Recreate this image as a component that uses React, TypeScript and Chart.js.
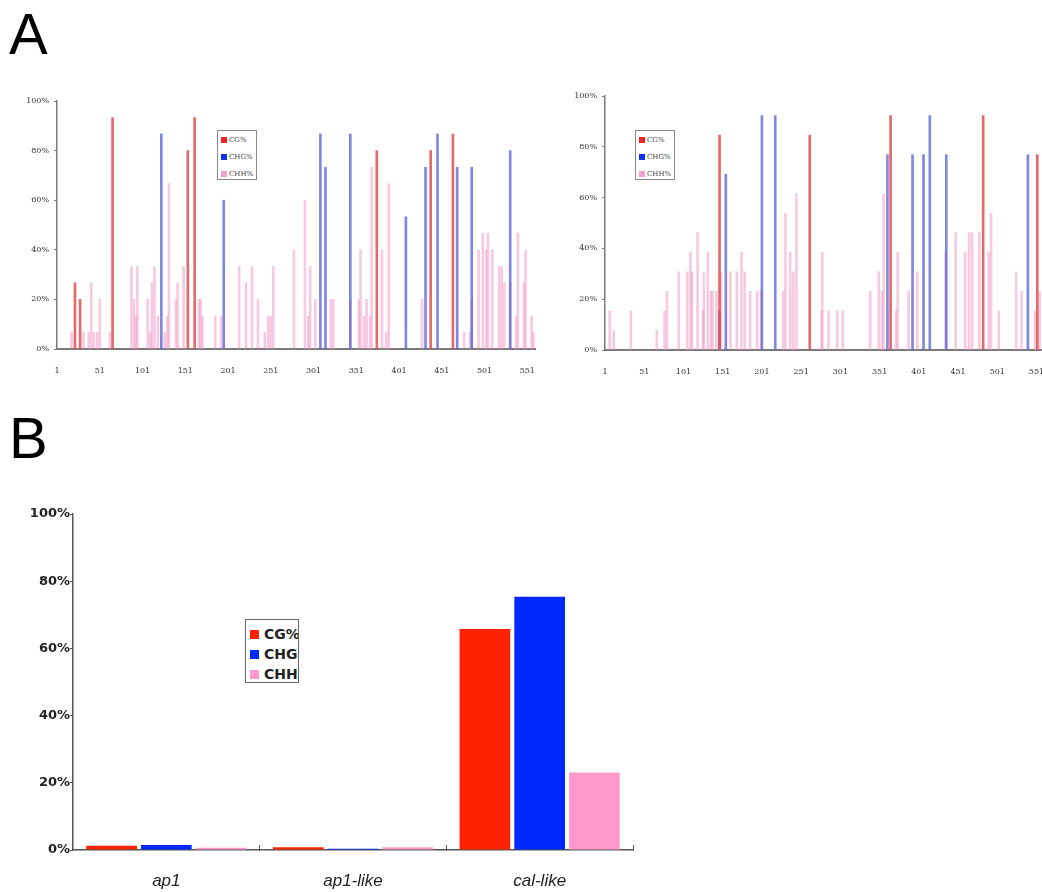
import React, { useEffect, useRef } from 'react';
import { Chart, registerables } from 'chart.js';

Chart.register(...registerables);

// ---------- shared labels ----------
const topSeriesLabels = ['CG%', 'CHG%', 'CHH%'];
const bottomSeriesLabels = ['CG%', 'CHG', 'CHH'];
const topXTicks = [1, 51, 101, 151, 201, 251, 301, 351, 401, 451, 501, 551];
const pctTicks = [0, 20, 40, 60, 80, 100];

// ---------- panel A, left ----------
const leftCgPos = [22, 28, 66, 154, 162, 375, 438, 464];
const leftCgVal = [26.7, 20, 93.3, 80, 93.3, 80, 80, 86.7];
const leftChgPos = [123, 196, 309, 315, 344, 409, 432, 446, 469, 486, 531];
const leftChgVal = [86.7, 60, 86.7, 73.3, 86.7, 53.3, 73.3, 86.7, 73.3, 73.3, 80];
const leftChhPos = [18, 32, 38, 41, 44, 48, 51, 63, 88, 91, 93, 95, 107, 110, 112, 115, 119, 127, 130, 132, 140, 142, 149, 167, 169, 171, 186, 193, 214, 222, 229, 236, 244, 248, 251, 254, 278, 291, 295, 297, 303, 321, 324, 344, 354, 356, 360, 363, 367, 369, 381, 386, 389, 428, 477, 484, 486, 494, 499, 503, 505, 510, 518, 521, 524, 531, 538, 540, 547, 549, 556, 558];
const leftChhVal = [6.7, 6.7, 6.7, 26.7, 6.7, 6.7, 20, 6.7, 33.3, 20, 13.3, 33.3, 20, 6.7, 26.7, 33.3, 13.3, 6.7, 13.3, 66.7, 20, 26.7, 33.3, 20, 20, 13.3, 13.3, 13.3, 33.3, 26.7, 33.3, 20, 6.7, 13.3, 13.3, 33.3, 40, 60, 13.3, 33.3, 20, 20, 20, 20, 20, 40, 13.3, 20, 13.3, 73.3, 40, 6.7, 66.7, 20, 6.7, 6.7, 20, 40, 46.7, 40, 46.7, 40, 33.3, 33.3, 26.7, 26.7, 13.3, 46.7, 26.7, 40, 13.3, 6.7];

// ---------- panel A, right ----------
const rightCgPos = [147, 262, 365, 483, 552];
const rightCgVal = [84.6, 84.6, 92.3, 92.3, 76.9];
const rightChgPos = [147, 155, 201, 218, 361, 393, 407, 415, 436, 540];
const rightChgVal = [15.4, 69.2, 92.3, 92.3, 76.9, 76.9, 76.9, 92.3, 76.9, 76.9];
const rightChhPos = [7, 12, 34, 67, 77, 80, 95, 106, 110, 112, 119, 126, 127, 132, 136, 138, 143, 149, 161, 169, 175, 179, 186, 195, 200, 228, 231, 237, 241, 245, 277, 278, 286, 297, 304, 339, 350, 354, 356, 372, 374, 388, 399, 435, 448, 460, 465, 469, 478, 490, 493, 503, 525, 532, 549, 555];
const rightChhVal = [15.4, 7.7, 15.4, 7.7, 15.4, 23.1, 30.8, 30.8, 38.5, 30.8, 46.2, 15.4, 30.8, 38.5, 23.1, 23.1, 23.1, 30.8, 30.8, 30.8, 38.5, 30.8, 23.1, 23.1, 23.1, 23.1, 53.8, 38.5, 30.8, 61.5, 15.4, 38.5, 15.4, 15.4, 15.4, 23.1, 30.8, 23.1, 61.5, 15.4, 38.5, 23.1, 30.8, 38.5, 46.2, 38.5, 46.2, 46.2, 46.2, 38.5, 53.8, 15.4, 30.8, 23.1, 15.4, 23.1];

// ---------- panel B ----------
const categories = ['ap1', 'ap1-like', 'cal-like'];
const cgValues = [1.3, 0.8, 65.8];
const chgValues = [1.5, 0.4, 75.4];
const chhValues = [0.7, 0.8, 23.1];

const topBarColors = ['rgba(222,80,80,0.85)', 'rgba(85,95,215,0.75)', 'rgba(240,150,195,0.5)'];
const topLegendColors = ['#ee2222', '#1133ee', '#f4a0cc'];
const bottomColors = ['#ff2200', '#0028ff', '#ff99cc'];

const pts = (pos: number[], val: number[]) => pos.map((x, i) => ({ x, y: val[i] }));

type TopProps = {
  left: number; top: number; width: number; height: number;
  yAxisWidth: number; xAxisHeight: number; padTop: number; padRight: number;
  xMax: number;
  cg: [number[], number[]]; chg: [number[], number[]]; chh: [number[], number[]];
};

function TopChart(p: TopProps) {
  const ref = useRef<HTMLCanvasElement>(null);
  useEffect(() => {
    if (!ref.current) return;
    const series = [p.cg, p.chg, p.chh];
    const tickFont = { family: '"DejaVu Serif", serif', size: 8 };
    const chart = new Chart(ref.current, {
      type: 'bar',
      data: {
        datasets: series.map((s, i) => ({
          label: topSeriesLabels[i],
          data: pts(s[0], s[1]),
          backgroundColor: topBarColors[i],
          borderWidth: 0,
          barThickness: 2,
          grouped: false,
        })),
      },
      options: {
        animation: false,
        responsive: false,
        maintainAspectRatio: false,
        layout: { padding: { top: p.padTop, right: p.padRight, left: 0, bottom: 0 } },
        plugins: { legend: { display: false }, tooltip: { enabled: false } },
        scales: {
          x: {
            type: 'linear',
            offset: false,
            min: 1,
            max: p.xMax,
            grid: { display: false },
            border: { display: true, color: '#7a7a7a', width: 2 },
            ticks: { font: tickFont, color: '#333', padding: 9, maxRotation: 0, autoSkip: false },
            afterBuildTicks: (s: any) => { s.ticks = topXTicks.map((v) => ({ value: v })); },
            afterFit: (s: any) => { s.height = p.xAxisHeight; s.paddingLeft = 0; s.paddingRight = 0; },
          },
          y: {
            min: 0,
            max: 100,
            grid: { drawOnChartArea: false, tickLength: 3, color: '#7a7a7a' },
            border: { display: true, color: '#7a7a7a', width: 1.5 },
            ticks: { font: tickFont, color: '#333', padding: 5, callback: (v: any) => v + '%' },
            afterBuildTicks: (s: any) => { s.ticks = pctTicks.map((v) => ({ value: v })); },
            afterFit: (s: any) => { s.width = p.yAxisWidth; s.paddingTop = 0; s.paddingBottom = 0; },
          },
        },
      },
    });
    return () => chart.destroy();
  }, []);
  return (
    <canvas
      ref={ref}
      width={p.width}
      height={p.height}
      style={{ position: 'absolute', left: p.left, top: p.top, width: p.width, height: p.height }}
    />
  );
}

function TopLegend({ left, top }: { left: number; top: number }) {
  return (
    <div
      style={{
        position: 'absolute', left, top, width: 38, height: 48,
        border: '1px solid #8a8a8a', background: '#fff', boxSizing: 'content-box',
        fontFamily: '"DejaVu Serif", serif', fontSize: 7, color: '#444',
      }}
    >
      {topSeriesLabels.map((l, i) => (
        <div key={l} style={{ position: 'absolute', left: 3, top: 4 + i * 17, height: 9, display: 'flex', alignItems: 'center', whiteSpace: 'nowrap' }}>
          <span style={{ display: 'inline-block', width: 6, height: 6, background: topLegendColors[i], marginRight: 2 }} />
          <span>{l}</span>
        </div>
      ))}
    </div>
  );
}

function BottomChart() {
  const ref = useRef<HTMLCanvasElement>(null);
  useEffect(() => {
    if (!ref.current) return;
    const vals = [cgValues, chgValues, chhValues];
    const chart = new Chart(ref.current, {
      type: 'bar',
      data: {
        labels: categories,
        datasets: vals.map((v, i) => ({
          label: bottomSeriesLabels[i],
          data: v,
          backgroundColor: bottomColors[i],
          borderWidth: 0,
          categoryPercentage: 0.88,
          barPercentage: 0.925,
        })),
      },
      options: {
        animation: false,
        responsive: false,
        maintainAspectRatio: false,
        layout: { padding: { top: 24, right: 27, left: 0, bottom: 0 } },
        plugins: { legend: { display: false }, tooltip: { enabled: false } },
        scales: {
          x: {
            grid: { drawOnChartArea: false, offset: true, tickLength: -5, color: '#555' },
            border: { display: true, color: '#555', width: 1.5 },
            ticks: { font: { family: '"Liberation Sans", Arial, sans-serif', size: 17, style: 'italic' }, color: '#222', padding: 26 },
            afterFit: (s: any) => { s.height = 42; s.paddingLeft = 0; s.paddingRight = 0; },
          },
          y: {
            min: 0,
            max: 100,
            grid: { drawOnChartArea: false, tickLength: 3, color: '#555' },
            border: { display: true, color: '#555', width: 1.5 },
            ticks: { font: { family: '"DejaVu Sans", sans-serif', size: 13, weight: 'bold' }, color: '#222', padding: 0, callback: (v: any) => v + '%' },
            afterBuildTicks: (s: any) => { s.ticks = pctTicks.map((v) => ({ value: v })); },
            afterFit: (s: any) => { s.width = 73; s.paddingTop = 0; s.paddingBottom = 0; },
          },
        },
      },
    });
    return () => chart.destroy();
  }, []);
  return (
    <canvas
      ref={ref}
      width={660}
      height={402}
      style={{ position: 'absolute', left: 0, top: 490, width: 660, height: 402 }}
    />
  );
}

function BottomLegend() {
  return (
    <div
      style={{
        position: 'absolute', left: 245, top: 619, width: 52, height: 62,
        border: '1.5px solid #666', background: '#fff', overflow: 'hidden',
        fontFamily: '"DejaVu Sans", sans-serif', fontSize: 14, fontWeight: 'bold', color: '#222',
      }}
    >
      {bottomSeriesLabels.map((l, i) => (
        <div key={l} style={{ position: 'absolute', left: 4, top: 5 + i * 20, height: 18, display: 'flex', alignItems: 'center', whiteSpace: 'nowrap' }}>
          <span style={{ display: 'inline-block', width: 9, height: 9, background: bottomColors[i], marginRight: 5 }} />
          <span>{l}</span>
        </div>
      ))}
    </div>
  );
}

const panelLetter = (text: string, top: number): React.ReactNode => (
  <div
    style={{
      position: 'absolute', left: 9, top, fontFamily: '"Liberation Sans", Arial, sans-serif',
      fontSize: 58, lineHeight: '58px', color: '#000',
    }}
  >
    {text}
  </div>
);

export default function App() {
  return (
    <div style={{ position: 'absolute', left: 0, top: 0, width: 1042, height: 892, overflow: 'hidden', background: '#fff' }}>
      {panelLetter('A', 5)}
      {panelLetter('B', 409)}
      <TopChart
        left={0} top={85} width={545} height={300}
        yAxisWidth={57} xAxisHeight={36} padTop={16} padRight={10}
        xMax={560}
        cg={[leftCgPos, leftCgVal]} chg={[leftChgPos, leftChgVal]} chh={[leftChhPos, leftChhVal]}
      />
      <TopLegend left={217} top={130} />
      <TopChart
        left={555} top={85} width={487} height={300}
        yAxisWidth={50} xAxisHeight={35} padTop={11} padRight={0}
        xMax={558}
        cg={[rightCgPos, rightCgVal]} chg={[rightChgPos, rightChgVal]} chh={[rightChhPos, rightChhVal]}
      />
      <TopLegend left={635} top={130} />
      <BottomChart />
      <BottomLegend />
    </div>
  );
}
